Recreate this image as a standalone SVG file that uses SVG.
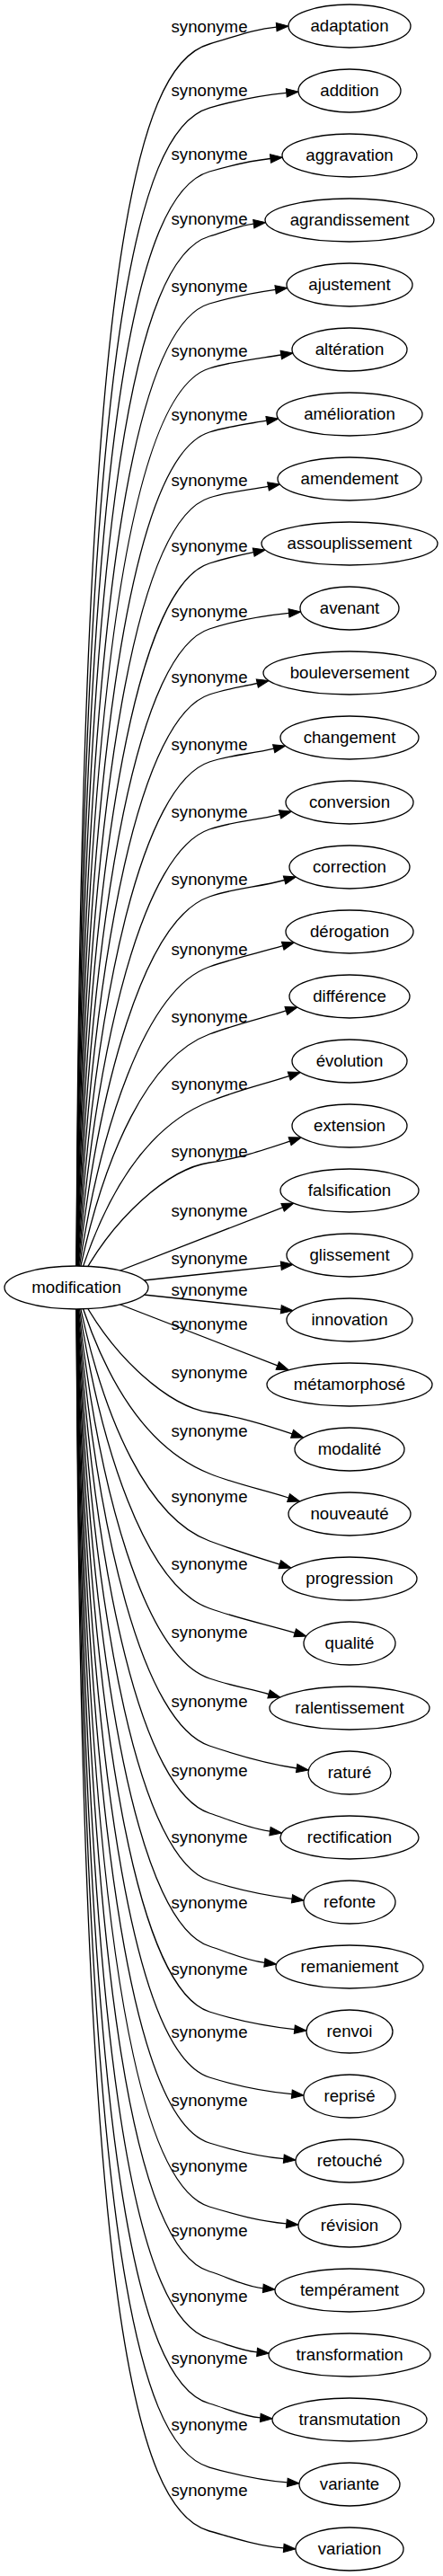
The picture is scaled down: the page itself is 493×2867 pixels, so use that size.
<svg xmlns="http://www.w3.org/2000/svg" width="493" height="2867" viewBox="0 0 493 2867">
<defs>
<style>
text{font-family:"Liberation Sans",Arial,Helvetica,sans-serif;font-size:18.67px;text-anchor:middle;fill:#000}
.n ellipse{fill:#fff;stroke:#000;stroke-width:1.3}
.e path{fill:none;stroke:#000;stroke-width:1.3;marker-end:url(#arr)}
</style>
<marker id="arr" viewBox="0 0 13.3 9.4" refX="0" refY="4.7" markerWidth="13.3" markerHeight="9.4" markerUnits="userSpaceOnUse" orient="auto" overflow="visible"><path d="M0,0 L13.3,4.7 L0,9.4 Z" fill="#000" stroke="#000" stroke-width="1"/></marker>
</defs>
<rect width="493" height="2867" fill="#fff"/>
<g id="edges" class="e">
<g id="edge-1"><path d="M85,1433 C88,298 150,72.2 233,49 C259.2,41.7 281.5,32.2 307.7,30.1"/><text x="233" y="36">synonyme</text></g>
<g id="edge-2"><path d="M85,1433 C89.5,384.8 150.9,143.4 233,120 C263,111.5 288.8,106.1 318.8,103.3"/><text x="233" y="107">synonyme</text></g>
<g id="edge-3"><path d="M85,1433 C91,468.4 151.8,214.5 233,191 C256.8,184.1 277.2,179.1 301,176.5"/><text x="233" y="178">synonyme</text></g>
<g id="edge-4"><path d="M85,1433 C92.6,550 152.7,286.7 233,263 C250.3,257.9 265,251.3 282.3,249.2"/><text x="233" y="250">synonyme</text></g>
<g id="edge-5"><path d="M85,1433 C94.2,631.7 153.7,361.8 233,338 C258.8,330.3 280.8,326 306.6,322.3"/><text x="233" y="325">synonyme</text></g>
<g id="edge-6"><path d="M85,1433 C95.7,707.2 154.6,433.9 233,410 C260.9,401.5 284.9,399.4 312.8,395"/><text x="233" y="397">synonyme</text></g>
<g id="edge-7"><path d="M85,1433 C97.3,778.2 155.5,505 233,481 C255.3,474.1 274.4,472 296.7,468.2"/><text x="233" y="468">synonyme</text></g>
<g id="edge-8"><path d="M85,1433 C98.8,848 156.4,578.1 233,554 C255.9,546.8 275.6,545.7 298.5,541.4"/><text x="233" y="541">synonyme</text></g>
<g id="edge-9"><path d="M85,1433 C100.4,914.6 157.3,651.2 233,627 C250.2,621.5 265,618.1 282.2,614.6"/><text x="233" y="614">synonyme</text></g>
<g id="edge-10"><path d="M85,1433 C102,977.9 158.2,724.3 233,700 C264,689.9 290.5,685.4 321.5,682.3"/><text x="233" y="687">synonyme</text></g>
<g id="edge-11"><path d="M85,1433 C103.5,1037.9 159.2,797.3 233,773 C251.6,766.9 267.7,764.8 286.3,760.5"/><text x="233" y="760">synonyme</text></g>
<g id="edge-12"><path d="M85,1433 C105.1,1096.2 160.1,872.4 233,848 C258.1,839.6 279.6,839.3 304.7,833.2"/><text x="233" y="835">synonyme</text></g>
<g id="edge-13"><path d="M85,1433 C106.7,1151.1 161.1,947.4 233,923 C260.5,913.7 284.1,913.5 311.6,906.4"/><text x="233" y="910">synonyme</text></g>
<g id="edge-14"><path d="M85,1433 C108.3,1202.5 162,1022.5 233,998 C262.3,987.9 287.3,987.6 316.6,979.5"/><text x="233" y="985">synonyme</text></g>
<g id="edge-15"><path d="M85,1433 C110,1252.4 163,1100.5 233,1076 C261.6,1066 286.1,1061 314.7,1052.7"/><text x="233" y="1063">synonyme</text></g>
<g id="edge-16"><path d="M85,1433 C115,1278 168,1175 233,1151 C262.8,1140 288.5,1134 318.3,1124.9"/><text x="233" y="1138">synonyme</text></g>
<g id="edge-17"><path d="M85,1433 C121,1313 173,1250 233,1226 C264,1213.6 290.7,1207.5 321.7,1197.6"/><text x="233" y="1213">synonyme</text></g>
<g id="edge-18"><path d="M85,1433 C125,1353 190,1300 233,1294 C264.4,1289.6 291.2,1280.7 322.6,1270.2"/><text x="233" y="1288">synonyme</text></g>
<g id="edge-19"><path d="M85,1433 L314.6,1343.8"/><text x="233" y="1354">synonyme</text></g>
<g id="edge-20"><path d="M85,1433 L312.8,1408.7"/><text x="233" y="1407">synonyme</text></g>
<g id="edge-21"><path d="M85,1433 L312.8,1457.3"/><text x="233" y="1442">synonyme</text></g>
<g id="edge-22"><path d="M85,1433 L308.8,1519.9"/><text x="233" y="1480">synonyme</text></g>
<g id="edge-23"><path d="M85,1433 C125,1513 190,1566 233,1572 C265.2,1576.5 292.9,1585 325.1,1595.8"/><text x="233" y="1534">synonyme</text></g>
<g id="edge-24"><path d="M85,1433 C121,1553 173,1616 233,1640 C263.8,1652.3 290.3,1657.1 321.1,1667"/><text x="233" y="1599">synonyme</text></g>
<g id="edge-25"><path d="M85,1433 C115,1588 168,1691 233,1715 C260.4,1725.1 283.9,1732.8 311.3,1741.1"/><text x="233" y="1672">synonyme</text></g>
<g id="edge-26"><path d="M85,1433 C110,1613.6 163,1765.5 233,1790 C266.3,1801.7 294.9,1807.6 328.2,1817.3"/><text x="233" y="1747">synonyme</text></g>
<g id="edge-27"><path d="M85,1433 C108.3,1663.5 162,1843.5 233,1868 C256.1,1876 276,1879.1 299.1,1885.5"/><text x="233" y="1823">synonyme</text></g>
<g id="edge-28"><path d="M85,1433 C106.7,1714.9 161.1,1918.6 233,1943 C267,1954.5 296.2,1962.9 330.2,1968"/><text x="233" y="1900">synonyme</text></g>
<g id="edge-29"><path d="M85,1433 C105.1,1769.8 160.1,1993.6 233,2018 C256.6,2025.9 276.9,2034.9 300.5,2038.2"/><text x="233" y="1977">synonyme</text></g>
<g id="edge-30"><path d="M85,1433 C103.5,1828.1 159.2,2068.7 233,2093 C265.2,2103.6 292.8,2109.1 325,2113.3"/><text x="233" y="2051">synonyme</text></g>
<g id="edge-31"><path d="M85,1433 C102,1888.1 158.2,2141.7 233,2166 C254.5,2173 272.9,2181.8 294.4,2184.4"/><text x="233" y="2124">synonyme</text></g>
<g id="edge-32"><path d="M85,1433 C100.4,1951.4 157.3,2214.8 233,2239 C266.2,2249.6 294.6,2254.9 327.8,2258.6"/><text x="233" y="2198">synonyme</text></g>
<g id="edge-33"><path d="M85,1433 C98.8,2018 156.4,2287.9 233,2312 C265.1,2322.1 292.7,2327.5 324.8,2330.7"/><text x="233" y="2268">synonyme</text></g>
<g id="edge-34"><path d="M85,1433 C97.3,2087.8 155.5,2361 233,2385 C262,2394 286.8,2399.8 315.8,2402.7"/><text x="233" y="2344">synonyme</text></g>
<g id="edge-35"><path d="M85,1433 C95.7,2158.8 154.6,2432.1 233,2456 C263,2465.1 288.8,2472.1 318.8,2474.8"/><text x="233" y="2417">synonyme</text></g>
<g id="edge-36"><path d="M85,1433 C94.2,2234.3 153.7,2504.2 233,2528 C253.9,2534.3 271.9,2544.9 292.8,2546.8"/><text x="233" y="2489">synonyme</text></g>
<g id="edge-37"><path d="M85,1433 C92.6,2316 152.7,2579.3 233,2603 C251.6,2608.5 267.5,2616.3 286.1,2617.9"/><text x="233" y="2562">synonyme</text></g>
<g id="edge-38"><path d="M85,1433 C91,2397.6 151.8,2651.5 233,2675 C252.9,2680.8 269.9,2689.4 289.8,2690.9"/><text x="233" y="2631">synonyme</text></g>
<g id="edge-39"><path d="M85,1433 C89.5,2481.2 150.9,2722.6 233,2746 C263.4,2754.7 289.4,2760.5 319.8,2762.9"/><text x="233" y="2705">synonyme</text></g>
<g id="edge-40"><path d="M85,1433 C88,2567.9 150,2793.8 233,2817 C262,2825.1 286.7,2833.6 315.7,2835.9"/><text x="233" y="2778">synonyme</text></g>
</g>
<g id="nodes" class="n">
<g id="node-modification"><ellipse cx="85" cy="1433" rx="80" ry="24"/><text x="85" y="1439">modification</text></g>
<g id="node-adaptation"><ellipse cx="389" cy="29" rx="68" ry="24"/><text x="389" y="35">adaptation</text></g>
<g id="node-addition"><ellipse cx="389" cy="101" rx="57" ry="24"/><text x="389" y="107">addition</text></g>
<g id="node-aggravation"><ellipse cx="389" cy="173" rx="75" ry="24"/><text x="389" y="179">aggravation</text></g>
<g id="node-agrandissement"><ellipse cx="389" cy="245" rx="94" ry="24"/><text x="389" y="251">agrandissement</text></g>
<g id="node-ajustement"><ellipse cx="389" cy="317" rx="70" ry="24"/><text x="389" y="323">ajustement</text></g>
<g id="node-alteration"><ellipse cx="389" cy="389" rx="64" ry="24"/><text x="389" y="395">altération</text></g>
<g id="node-amelioration"><ellipse cx="389" cy="461" rx="81" ry="24"/><text x="389" y="467">amélioration</text></g>
<g id="node-amendement"><ellipse cx="389" cy="533" rx="80" ry="24"/><text x="389" y="539">amendement</text></g>
<g id="node-assouplissement"><ellipse cx="389" cy="605" rx="98" ry="24"/><text x="389" y="611">assouplissement</text></g>
<g id="node-avenant"><ellipse cx="389" cy="677" rx="55" ry="24"/><text x="389" y="683">avenant</text></g>
<g id="node-bouleversement"><ellipse cx="389" cy="749" rx="96" ry="24"/><text x="389" y="755">bouleversement</text></g>
<g id="node-changement"><ellipse cx="389" cy="821" rx="77" ry="24"/><text x="389" y="827">changement</text></g>
<g id="node-conversion"><ellipse cx="389" cy="893" rx="71" ry="24"/><text x="389" y="899">conversion</text></g>
<g id="node-correction"><ellipse cx="389" cy="965" rx="67" ry="24"/><text x="389" y="971">correction</text></g>
<g id="node-derogation"><ellipse cx="389" cy="1037" rx="71" ry="24"/><text x="389" y="1043">dérogation</text></g>
<g id="node-difference"><ellipse cx="389" cy="1109" rx="67" ry="24"/><text x="389" y="1115">différence</text></g>
<g id="node-evolution"><ellipse cx="389" cy="1181" rx="64" ry="24"/><text x="389" y="1187">évolution</text></g>
<g id="node-extension"><ellipse cx="389" cy="1253" rx="64" ry="24"/><text x="389" y="1259">extension</text></g>
<g id="node-falsification"><ellipse cx="389" cy="1325" rx="77" ry="24"/><text x="389" y="1331">falsification</text></g>
<g id="node-glissement"><ellipse cx="389" cy="1397" rx="70" ry="24"/><text x="389" y="1403">glissement</text></g>
<g id="node-innovation"><ellipse cx="389" cy="1469" rx="70" ry="24"/><text x="389" y="1475">innovation</text></g>
<g id="node-metamorphose"><ellipse cx="389" cy="1541" rx="92" ry="24"/><text x="389" y="1547">métamorphosé</text></g>
<g id="node-modalite"><ellipse cx="389" cy="1613" rx="61" ry="24"/><text x="389" y="1619">modalité</text></g>
<g id="node-nouveaute"><ellipse cx="389" cy="1685" rx="68" ry="24"/><text x="389" y="1691">nouveauté</text></g>
<g id="node-progression"><ellipse cx="389" cy="1757" rx="75" ry="24"/><text x="389" y="1763">progression</text></g>
<g id="node-qualite"><ellipse cx="389" cy="1829" rx="51" ry="24"/><text x="389" y="1835">qualité</text></g>
<g id="node-ralentissement"><ellipse cx="389" cy="1901" rx="89" ry="24"/><text x="389" y="1907">ralentissement</text></g>
<g id="node-rature"><ellipse cx="389" cy="1973" rx="46" ry="24"/><text x="389" y="1979">raturé</text></g>
<g id="node-rectification"><ellipse cx="389" cy="2045" rx="77" ry="24"/><text x="389" y="2051">rectification</text></g>
<g id="node-refonte"><ellipse cx="389" cy="2117" rx="51" ry="24"/><text x="389" y="2123">refonte</text></g>
<g id="node-remaniement"><ellipse cx="389" cy="2189" rx="82" ry="24"/><text x="389" y="2195">remaniement</text></g>
<g id="node-renvoi"><ellipse cx="389" cy="2261" rx="48" ry="24"/><text x="389" y="2267">renvoi</text></g>
<g id="node-reprise"><ellipse cx="389" cy="2333" rx="51" ry="24"/><text x="389" y="2339">reprisé</text></g>
<g id="node-retouche"><ellipse cx="389" cy="2405" rx="60" ry="24"/><text x="389" y="2411">retouché</text></g>
<g id="node-revision"><ellipse cx="389" cy="2477" rx="57" ry="24"/><text x="389" y="2483">révision</text></g>
<g id="node-temperament"><ellipse cx="389" cy="2549" rx="83" ry="24"/><text x="389" y="2555">tempérament</text></g>
<g id="node-transformation"><ellipse cx="389" cy="2621" rx="90" ry="24"/><text x="389" y="2627">transformation</text></g>
<g id="node-transmutation"><ellipse cx="389" cy="2693" rx="86" ry="24"/><text x="389" y="2699">transmutation</text></g>
<g id="node-variante"><ellipse cx="389" cy="2765" rx="56" ry="24"/><text x="389" y="2771">variante</text></g>
<g id="node-variation"><ellipse cx="389" cy="2837" rx="60" ry="24"/><text x="389" y="2843">variation</text></g>
</g>
</svg>
